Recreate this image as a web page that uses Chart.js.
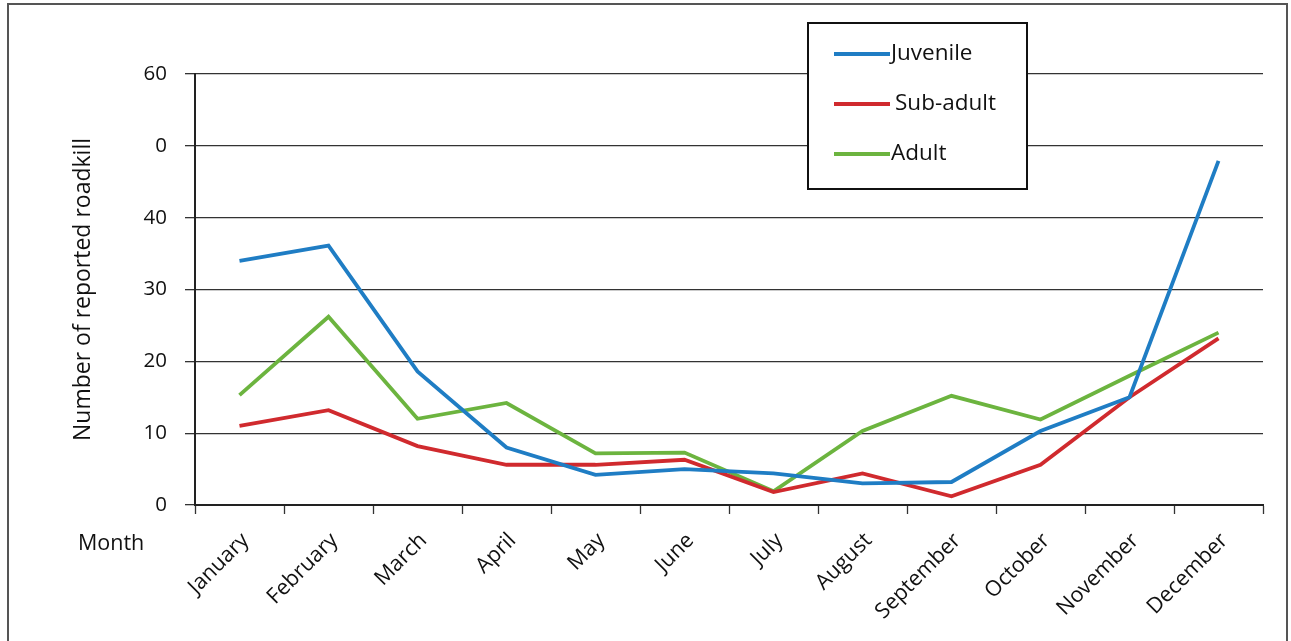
<!DOCTYPE html>
<html>
<head>
<meta charset="utf-8">
<script src="https://cdn.jsdelivr.net/npm/chart.js@4/dist/chart.umd.min.js"></script>
<style>
  html, body { margin: 0; padding: 0; background: #ffffff; }
  #wrap { position: relative; width: 1291px; height: 641px; }
</style>
</head>
<body>
<div id="wrap"><canvas id="chart" width="1291" height="641"></canvas></div>
<script>
// Monthly counts of reported roadkill by age class
const months = ['January', 'February', 'March', 'April', 'May', 'June',
                'July', 'August', 'September', 'October', 'November', 'December'];
const juvenile = [34.0, 36.1, 18.6, 8.0, 4.2, 5.0, 4.4, 3.0, 3.2, 10.3, 15.0, 47.9];
const subAdult = [11.0, 13.2, 8.2, 5.6, 5.6, 6.3, 1.8, 4.4, 1.2, 5.6, 15.0, 23.2];
const adult    = [15.3, 26.2, 12.0, 14.2, 7.2, 7.3, 1.9, 10.3, 15.2, 11.9, 18.0, 24.0];
// y-axis labels as printed, in order from 0 upwards
const yTickLabels = ['0', '10', '20', '30', '40', '0', '60'];

const FONT = '"Open Sans", "DejaVu Sans", sans-serif';
const BLUE = '#1f7dc4', RED = '#d02a2e', GREEN = '#6cb43f';

// white page with the thin outer frame
const framePlugin = {
  id: 'frame',
  beforeDraw(chart) {
    const c = chart.ctx;
    c.save();
    c.fillStyle = '#ffffff';
    c.fillRect(0, 0, chart.width, chart.height);
    c.strokeStyle = '#555555';
    c.lineWidth = 2;
    c.strokeRect(8, 4, 1279, 660);
    c.restore();
  }
};

// boxed legend and the "Month" caption
const legendPlugin = {
  id: 'boxLegend',
  afterDraw(chart) {
    const c = chart.ctx;
    c.save();
    c.fillStyle = '#ffffff';
    c.fillRect(808, 23, 219, 166);
    c.strokeStyle = '#111111';
    c.lineWidth = 2;
    c.strokeRect(808, 23, 219, 166);
    const rows = [54, 104, 154];
    chart.data.datasets.forEach((ds, i) => {
      c.strokeStyle = ds.borderColor;
      c.lineWidth = 4;
      c.beginPath();
      c.moveTo(834, rows[i]);
      c.lineTo(890, rows[i]);
      c.stroke();
      c.fillStyle = '#111111';
      c.font = '22.5px ' + FONT;
      c.textBaseline = 'middle';
      c.textAlign = 'left';
      c.fillText(ds.label, i === 1 ? 895 : 891, rows[i]);
    });
    c.font = '21.5px ' + FONT;
    c.fillStyle = '#111111';
    c.textBaseline = 'middle';
    c.textAlign = 'left';
    c.fillText('Month', 78, 544);
    c.restore();
  }
};

new Chart(document.getElementById('chart'), {
  type: 'line',
  data: {
    labels: months,
    datasets: [
      { label: 'Juvenile', data: juvenile, borderColor: BLUE },
      { label: 'Sub-adult', data: subAdult, borderColor: RED },
      { label: 'Adult', data: adult, borderColor: GREEN }
    ].map(d => Object.assign(d, {
      borderWidth: 3.8, pointRadius: 0, tension: 0, fill: false,
      borderJoinStyle: 'miter', borderCapStyle: 'butt'
    }))
  },
  options: {
    responsive: false,
    animation: false,
    layout: { padding: { top: 74, right: 28, left: 0, bottom: 0 } },
    plugins: { legend: { display: false }, tooltip: { enabled: false } },
    scales: {
      x: {
        offset: true,
        afterFit(s) { s.height = 136; },
        grid: {
          offset: true, drawOnChartArea: false, drawTicks: true,
          tickLength: 9, tickColor: '#333333', tickWidth: 1.3
        },
        border: { display: true, color: '#222222', width: 2 },
        ticks: {
          minRotation: 45, maxRotation: 45, autoSkip: false,
          padding: 14, labelOffset: 6,
          color: '#111111', font: { family: FONT, size: 21.5 }
        }
      },
      y: {
        min: 0, max: 60,
        afterFit(s) { s.width = 195; },
        grid: {
          color: '#333333', lineWidth: 1.3, drawTicks: true,
          tickLength: 10, tickColor: '#333333'
        },
        border: { display: true, color: '#222222', width: 2 },
        ticks: {
          stepSize: 10, padding: 18,
          color: '#111111', font: { family: FONT, size: 20.5 },
          callback: (v, i) => yTickLabels[i]
        },
        title: {
          display: true, text: 'Number of reported roadkill',
          color: '#111111', font: { family: FONT, size: 23 },
          padding: { top: 70, bottom: 0 }
        }
      }
    }
  },
  plugins: [framePlugin, legendPlugin]
});
</script>
</body>
</html>
